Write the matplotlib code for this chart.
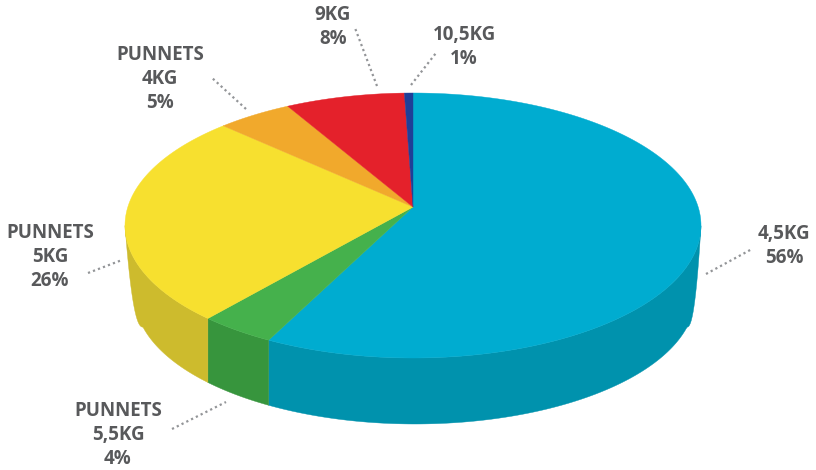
import numpy as np
import matplotlib
matplotlib.use("Agg")
import matplotlib.pyplot as plt

# slice sizes (drawn clockwise from 12 o'clock)
names = ["4,5KG", "PUNNETS\n5,5KG", "PUNNETS\n5KG", "PUNNETS\n4KG", "9KG", "10,5KG"]
shares = [57.3, 3.8, 25.9, 4.8, 7.65, 0.55]
percent_labels = ["56%", "4%", "26%", "5%", "8%", "1%"]
top_colors = ["#00ACD0", "#45B14C", "#F7E02F", "#F1A92C", "#E4212B", "#1F3F98"]
side_colors = ["#0092AD", "#37953D", "#CDBB2D", "#C98D24", "#BE1C24", "#1A347E"]

# label centre and leader ends, in pixels
label_xy = [(784, 246), (118, 435), (50, 257), (160, 79), (333, 27), (464, 47)]
leader_xy = [((706, 274), (752, 249)), ((172, 429), (226, 402)), ((88, 273), (122, 260)),
             ((246, 109), (211, 77)), ((377, 86), (355, 28)), ((411, 85), (436, 53))]

# top face ellipse, apex sits above its middle because of the perspective
cx, cy, rx, ry = 413, 225.5, 288, 132.5
apex_y = 207
a = (cy - apex_y) / ry


def rim(theta):
    # clockwise angle from the top -> point on the tilted rim
    u, v = np.sin(theta), np.cos(theta)
    d = 1 + a * v
    return cx + rx * u * np.sqrt(1 - a**2) / d, cy - ry * (v + a) / d


def lower_edge(x):
    # bottom outline of the side wall
    bx, by, brx, bry = 415, 297, 280, 127
    x0, x1 = 143, 687
    xin = np.clip(x, x0, x1)
    y = by + bry * np.sqrt(1 - ((xin - bx) / brx) ** 2)
    yend = by + bry * np.sqrt(1 - ((x0 - bx) / brx) ** 2)
    # flanks run back up to the widest point of the rim
    t = np.where(x < x0, (x - (cx - rx)) / (x0 - (cx - rx)), 1.0)
    t = np.where(x > x1, ((cx + rx) - x) / ((cx + rx) - x1), t)
    t = np.clip(t, 0, 1)
    flank = cy + (yend - cy) * (1 - (1 - t) ** 2.3)
    return np.where((x < x0) | (x > x1), flank, y)


fig = plt.figure(figsize=(8.16, 4.70), dpi=100)
ax = fig.add_axes([0, 0, 1, 1])
ax.set_xlim(0, 816)
ax.set_ylim(470, 0)
ax.axis("off")

edges = 2 * np.pi * np.concatenate([[0], np.cumsum(shares)]) / np.sum(shares)

# side wall first, only the part of the rim below the widest point shows
for i in range(len(shares)):
    th = np.linspace(edges[i], edges[i + 1], 300)
    x, y = rim(th)
    keep = y >= cy
    if keep.sum() < 2:
        continue
    x, y = x[keep], y[keep]
    ax.fill(np.r_[x, x[::-1]], np.r_[y, lower_edge(x)[::-1]], color=side_colors[i], lw=0.3, zorder=2)

for i in range(len(shares)):
    th = np.linspace(edges[i], edges[i + 1], 300)
    x, y = rim(th)
    ax.fill(np.r_[cx, x], np.r_[apex_y, y], color=top_colors[i], lw=0.3, zorder=3)

for name, pct, (lx, ly), (p0, p1) in zip(names, percent_labels, label_xy, leader_xy):
    ax.plot([p0[0], p1[0]], [p0[1], p1[1]], color="#939598", lw=1.6, ls=(0, (1, 1.4)), zorder=1)
    ax.text(lx, ly, name + "\n" + pct, ha="center", va="center", color="#58595B",
            fontsize=13.5, fontweight="bold", family="Open Sans", linespacing=1.3)

plt.savefig("out.png", dpi=100)
